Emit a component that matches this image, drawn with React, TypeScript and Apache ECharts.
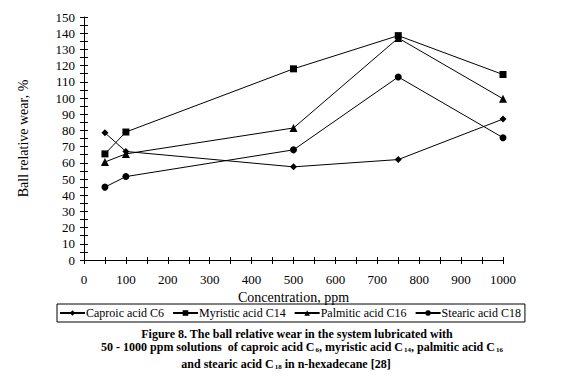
import React, { useEffect, useRef } from "react";
import * as echarts from "echarts";

const concentrations = [50, 100, 500, 750, 1000];
const caproic = [78.5, 67, 57.5, 62, 87];
const myristic = [65.5, 79, 118, 138.5, 114.5];
const palmitic = [60.5, 65.5, 81.5, 137, 99.5];
const stearic = [45, 51.5, 68, 113, 75.5];
const seriesNames = ["Caproic acid C6", "Myristic acid C14", "Palmitic acid C16", "Stearic acid C18"];
const seriesSymbols = ["diamond", "rect", "triangle", "circle"];
const seriesValues = [caproic, myristic, palmitic, stearic];

const FONT = "Liberation Serif";

export default function App() {
  const ref = useRef<HTMLDivElement>(null);
  useEffect(() => {
    const chart = echarts.init(ref.current!, null, { renderer: "svg" });
    const grid = { left: 84, right: 72, top: 17, bottom: 125 };
    const axisCommon = {
      axisLine: { show: true, lineStyle: { color: "#000", width: 1 } },
      splitLine: { show: false },
    };
    const sub = { fontFamily: FONT, fontSize: 7, fontWeight: "bold", verticalAlign: "bottom", lineHeight: 12, padding: [3, 0, 0, 1] };
    const titleStyle = { fontFamily: FONT, fontSize: 12, fontWeight: "bold", fill: "#000", lineHeight: 12, align: "center" };
    chart.setOption({
      animation: false,
      backgroundColor: "#fff",
      textStyle: { fontFamily: FONT },
      grid,
      xAxis: [
        {
          type: "value",
          min: 0,
          max: 1000,
          interval: 100,
          name: "Concentration, ppm",
          nameLocation: "middle",
          nameGap: 28,
          nameTextStyle: { fontFamily: FONT, fontSize: 14, color: "#000" },
          ...axisCommon,
          axisTick: { show: true, length: 4, lineStyle: { color: "#000" } },
          minorTick: { show: true, splitNumber: 2, length: 4, lineStyle: { color: "#000" } },
          axisLabel: { fontFamily: FONT, fontSize: 13, color: "#000", margin: 13, formatter: (v: number) => String(v) },
        },
        {
          type: "value",
          min: 0,
          max: 1000,
          interval: 100,
          position: "bottom",
          axisLine: { show: false },
          axisTick: { show: true, inside: true, length: 3, lineStyle: { color: "#000" } },
          minorTick: { show: true, splitNumber: 2, length: 3, lineStyle: { color: "#000" } },
          axisLabel: { show: false },
          splitLine: { show: false },
        },
      ],
      yAxis: [
        {
          type: "value",
          min: 0,
          max: 150,
          interval: 10,
          name: "Ball relative wear, %",
          nameLocation: "middle",
          nameGap: 54,
          nameTextStyle: { fontFamily: FONT, fontSize: 14, color: "#000" },
          ...axisCommon,
          axisTick: { show: true, length: 4, lineStyle: { color: "#000" } },
          minorTick: { show: true, splitNumber: 2, length: 4, lineStyle: { color: "#000" } },
          axisLabel: { fontFamily: FONT, fontSize: 13, color: "#000", margin: 9 },
        },
        {
          type: "value",
          min: 0,
          max: 150,
          interval: 10,
          position: "left",
          axisLine: { show: false },
          axisTick: { show: true, inside: true, length: 4, lineStyle: { color: "#000" } },
          minorTick: { show: true, splitNumber: 2, length: 4, lineStyle: { color: "#000" } },
          axisLabel: { show: false },
          splitLine: { show: false },
        },
      ],
      legend: {
        left: 57,
        top: 304,
        orient: "horizontal",
        borderColor: "#000",
        borderWidth: 1,
        borderRadius: 0,
        padding: [3, 4, 3, 2],
        itemWidth: 25,
        itemHeight: 7,
        itemGap: 8,
        textStyle: { fontFamily: FONT, fontSize: 12, color: "#000", padding: [0, 0, 0, -4] },
        data: seriesNames,
      },
      series: seriesNames.map((name, i) => ({
        name,
        type: "line",
        data: concentrations.map((c, j) => [c, seriesValues[i][j]]),
        symbol: seriesSymbols[i],
        symbolSize: i === 2 ? 8 : 7,
        showSymbol: true,
        lineStyle: { color: "#000", width: 1 },
        itemStyle: { color: "#000" },
        emphasis: { disabled: true },
      })),
      graphic: [
        {
          type: "text",
          x: 297,
          y: 328,
          style: {
            ...titleStyle,
            text: "Figure 8. The ball relative wear in the system lubricated with",
          },
        },
        {
          type: "text",
          x: 302,
          y: 341,
          style: {
            ...titleStyle,
            text:
              "50 - 1000 ppm solutions  of caproic acid C{s|6}, myristic acid C{s|14}, palmitic acid C{s|16}",
            rich: { s: sub },
          },
        },
        {
          type: "text",
          x: 286,
          y: 358,
          style: {
            ...titleStyle,
            text: "and stearic acid C{s|18} in n-hexadecane [28]",
            rich: { s: sub },
          },
        },
      ],
    });
    return () => chart.dispose();
  }, []);
  return <div ref={ref} style={{ width: 575, height: 385, marginLeft: -8, marginTop: -8 }} />;
}
